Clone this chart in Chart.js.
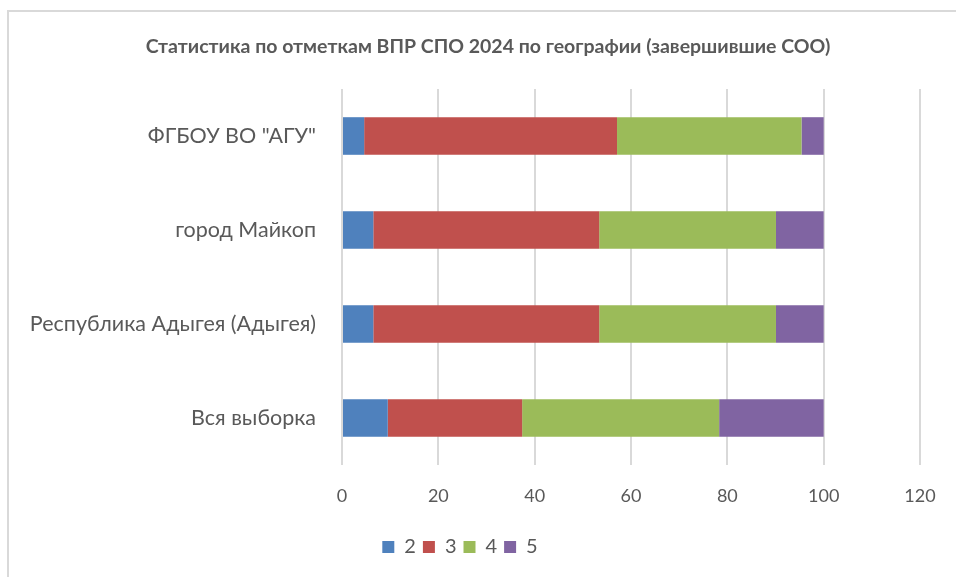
<!DOCTYPE html>
<html>
<head>
<meta charset="utf-8">
<script src="https://cdn.jsdelivr.net/npm/chart.js@4"></script>
<style>
  html, body { margin: 0; padding: 0; background: #fff; }
  #wrap { position: relative; width: 956px; height: 577px; }
  #frame { position: absolute; left: 7px; top: 10px; right: 0; bottom: 0;
           border-left: 2px solid #d9d9d9; border-top: 2px solid #d9d9d9; }
  #title { position: absolute; left: 288px; width: 400px; top: 34px; text-align: center;
           white-space: nowrap; font: bold 19.5px Lato, "Open Sans", sans-serif; color: #595959;
           line-height: 24px; display: flex; justify-content: center; }
  canvas { position: absolute; left: 0; top: 0; }
</style>
</head>
<body>
<div id="wrap">
  <div id="frame"></div>
  <canvas id="chart" width="956" height="577"></canvas>
  <div id="title"></div>
</div>
<script>
const chartTitle = "Статистика по отметкам ВПР СПО 2024 по географии (завершившие СОО)";
const categories = ['ФГБОУ ВО "АГУ"', "город Майкоп", "Республика Адыгея (Адыгея)", "Вся выборка"];
const grade2 = [4.6, 6.5, 6.5, 9.5];
const grade3 = [52.5, 46.9, 46.9, 27.9];
const grade4 = [38.3, 36.7, 36.7, 40.9];
const grade5 = [4.6, 9.9, 9.9, 21.7];
const seriesNames = ["2", "3", "4", "5"];
const colors = ["#4f81bd", "#c0504d", "#9bbb59", "#8064a2"];

const fontFamily = "Lato, 'Open Sans', sans-serif";
const textColor = "#595959";

document.getElementById("title").textContent = chartTitle;

const ctx = document.getElementById("chart");
new Chart(ctx, {
  type: "bar",
  data: {
    labels: categories,
    datasets: [grade2, grade3, grade4, grade5].map((vals, i) => ({
      label: seriesNames[i],
      data: vals,
      backgroundColor: colors[i],
      borderWidth: 0,
      barPercentage: 0.4,
      categoryPercentage: 1,
    })),
  },
  options: {
    indexAxis: "y",
    responsive: false,
    animation: false,
    layout: { padding: { left: 0, right: 36, top: 89, bottom: 10 } },
    scales: {
      x: {
        stacked: true,
        min: 0,
        max: 120,
        ticks: { stepSize: 20, color: textColor, padding: 20, font: { family: fontFamily, size: 18 } },
        grid: { color: "#d9d9d9", lineWidth: 2, drawTicks: false },
        border: { display: false },
        afterFit: (scale) => { scale.height = 65; },
      },
      y: {
        stacked: true,
        ticks: { color: textColor, padding: 18, font: { family: fontFamily, size: 21.5 } },
        grid: { display: false },
        border: { display: false },
        afterFit: (scale) => { scale.width = 342; },
      },
    },
    plugins: {
      title: { display: false },
      legend: {
        position: "bottom",
        labels: {
          color: textColor,
          boxWidth: 12,
          boxHeight: 12,
          padding: 7,
          font: { family: fontFamily, size: 20 },
        },
      },
      tooltip: { enabled: false },
    },
  },
});
</script>
</body>
</html>
